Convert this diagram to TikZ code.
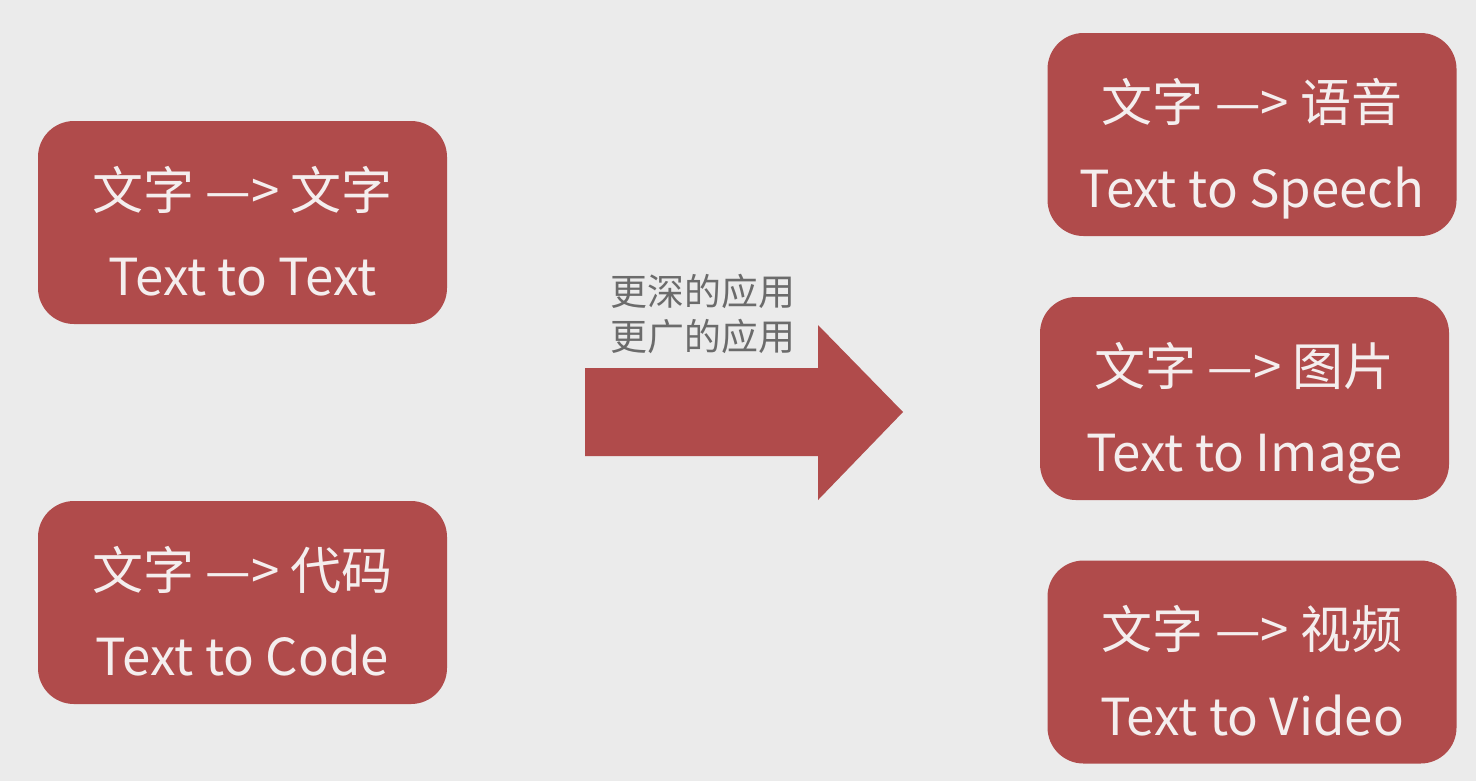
\documentclass[tikz,border=0pt]{standalone}
\usepackage{fontspec}
\setmainfont{Noto Sans CJK SC}
\definecolor{boxred}{HTML}{B04B4B}
\definecolor{bggray}{HTML}{EBEBEB}
\definecolor{txtwhite}{HTML}{F4EEEE}
\definecolor{txtgray}{HTML}{6B6B6B}
\begin{document}
\begin{tikzpicture}
    \tikzset{task/.style= {fill=boxred,
                           rounded corners=0.36cm,
                           text=txtwhite,
                           align=center,
                           font=\fontsize{14.5}{24.5}\selectfont,
                           text height=1.46cm,
                           text depth=0cm,
                           minimum width=4.09cm,
                           minimum height=2.03cm},
             note/.style= {text=txtgray,
                           align=center,
                           font=\fontsize{10.5}{12.6}\selectfont},
            }
    \fill[bggray] (0,0) rectangle (14.76,7.81);
    \useasboundingbox (0,0) rectangle (14.76,7.81);
    \path
    (2.425,5.585)  node[task](tt) {文字 —> 文字\\Text to Text}
    (2.425,1.785)  node[task](tc) {文字 —> 代码\\Text to Code}
    (12.52,6.465)  node[task](ts) {文字 —> 语音\\Text to Speech}
    (12.445,3.825) node[task](ti) {文字 —> 图片\\Text to Image}
    (12.52,1.19)   node[task](tv) {文字 —> 视频\\Text to Video}
    (7.03,4.67)    node[note](n)  {更深的应用\\更广的应用}
    ;
    \fill[boxred] (5.85,4.13) -- (8.18,4.13) -- (8.18,4.56) -- (9.03,3.69)
                  -- (8.18,2.81) -- (8.18,3.25) -- (5.85,3.25) -- cycle;
\end{tikzpicture}
\end{document}
